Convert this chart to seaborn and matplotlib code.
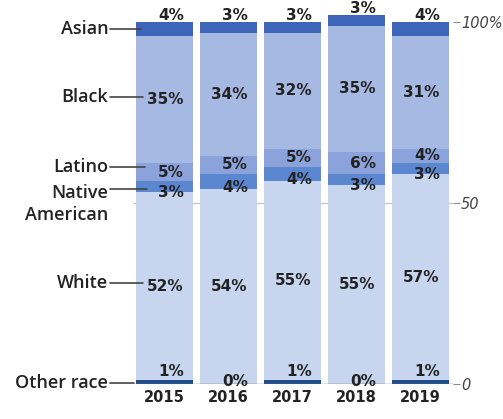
import matplotlib
matplotlib.use("Agg")
import matplotlib.pyplot as plt
import numpy as np
import pandas as pd
import seaborn as sns

# Share of each group per year (percent), listed bottom-to-top of the stack
years = ["2015", "2016", "2017", "2018", "2019"]
groups = ["Other race", "White", "Native American", "Latino", "Black", "Asian"]
other_race = [1, 0, 1, 0, 1]
white = [52, 54, 55, 55, 57]
native_american = [3, 4, 4, 3, 3]
latino = [5, 5, 5, 6, 4]
black = [35, 34, 32, 35, 31]
asian = [4, 3, 3, 3, 4]

axis_ticks = [0, 50, 100]
axis_tick_labels = ["0", "50", "100%"]

series = [other_race, white, native_american, latino, black, asian]
colors = ["#1f4e8c", "#c7d5ee", "#5b86d0", "#8ba3da", "#a5b9e2", "#3d66ba"]

rows = []
for g, vals in zip(groups, series):
    for y, v in zip(years, vals):
        rows.append({"year": y, "group": g, "share": v})
df = pd.DataFrame(rows)

sns.set_theme(style="white")
plt.rcParams["font.family"] = ["DejaVu Sans"]

fig = plt.figure(figsize=(5.03, 4.19), dpi=100)
ax = fig.add_axes([132.5 / 503, 35 / 419, 320 / 503, 362 / 419])

bar_width = 0.88
bottoms = np.zeros(len(years))
segments = {}
for g, c in zip(groups, colors):
    d = df[df["group"] == g]
    sns.barplot(data=d, x="year", y="share", order=years, color=c,
                width=bar_width, errorbar=None, bottom=bottoms.copy(),
                saturation=1, ax=ax, zorder=2, linewidth=0, clip_on=False)
    vals = d.set_index("year").loc[years, "share"].to_numpy(dtype=float)
    segments[g] = (bottoms.copy(), vals)
    bottoms = bottoms + vals

ax.set_xlim(-0.5, 4.5)
ax.set_ylim(0, 100)

# light rule at the midpoint, visible between bars; darker baseline
ax.axhline(50, color="#c8c8c8", lw=1, zorder=1)
ax.axhline(0, color="#666666", lw=1, zorder=3)

# right-hand scale
ax.yaxis.tick_right()
ax.set_yticks(axis_ticks)
ax.set_yticklabels(axis_tick_labels, fontstyle="italic", color="#444444",
                   fontsize=10.5)
ax.tick_params(axis="y", length=5, width=0.8, color="#888888", pad=1,
               right=True, left=False)
ax.set_xticks(range(len(years)))
ax.set_xticklabels(years, fontweight="bold", fontsize=10.5, color="#222222")
ax.tick_params(axis="x", length=0, pad=4)
ax.set_xlabel("")
ax.set_ylabel("")
for s in ax.spines.values():
    s.set_visible(False)

label_kw = dict(fontsize=11, fontweight="bold", color="#222222", zorder=5)
right_off = 0.30  # labels right-aligned inside each bar
for g in groups:
    base, vals = segments[g]
    for i, (b, v) in enumerate(zip(base, vals)):
        txt = f"{int(v)}%"
        x = i + right_off
        if g == "Asian":
            ax.text(x, b + v + 0.6, txt, ha="right", va="baseline",
                    clip_on=False, **label_kw)
        elif g == "Other race":
            lift = 1.2 if v > 0 else -0.5
            ax.text(x, b + v + lift, txt, ha="right", va="baseline", **label_kw)
        elif g == "Native American":
            ax.text(x, b + v / 2 - 1.6, txt, ha="right", va="center", **label_kw)
        else:
            ax.text(x, b + v / 2, txt, ha="right", va="center", **label_kw)

# group names on the left with leader lines into the first bar
name_kw = dict(fontsize=13, color="#222222", fontweight="semibold",
               family=["Open Sans", "DejaVu Sans"])
text_x = -0.88
line_from = -0.855
leader_ends = {"Asian": -0.37, "Black": -0.33, "Latino": -0.30,
               "Native American": -0.27, "White": -0.33, "Other race": -0.48}
base0 = {g: segments[g][0][0] for g in groups}
val0 = {g: segments[g][1][0] for g in groups}
for g in groups:
    if g == "Asian":
        y = base0[g] + val0[g] / 2
    elif g == "Other race":
        y = 0.3
    elif g == "Native American":
        y = base0[g] + val0[g] / 2 - 0.7
    elif g == "Latino":
        y = base0[g] + val0[g] / 2 + 1.4
    else:
        y = base0[g] + val0[g] / 2 + 0.9
    ax.plot([line_from, leader_ends[g]], [y, y], color="#444444", lw=1.2,
            clip_on=False, zorder=4)
    if g == "Native American":
        ax.text(text_x, y - 1.0, "Native", ha="right", va="center",
                clip_on=False, **name_kw)
        ax.text(text_x, y - 7.0, "American", ha="right", va="center",
                clip_on=False, **name_kw)
    else:
        ax.text(text_x, y, g, ha="right", va="center", clip_on=False, **name_kw)

fig.savefig("out.png", dpi=100)
